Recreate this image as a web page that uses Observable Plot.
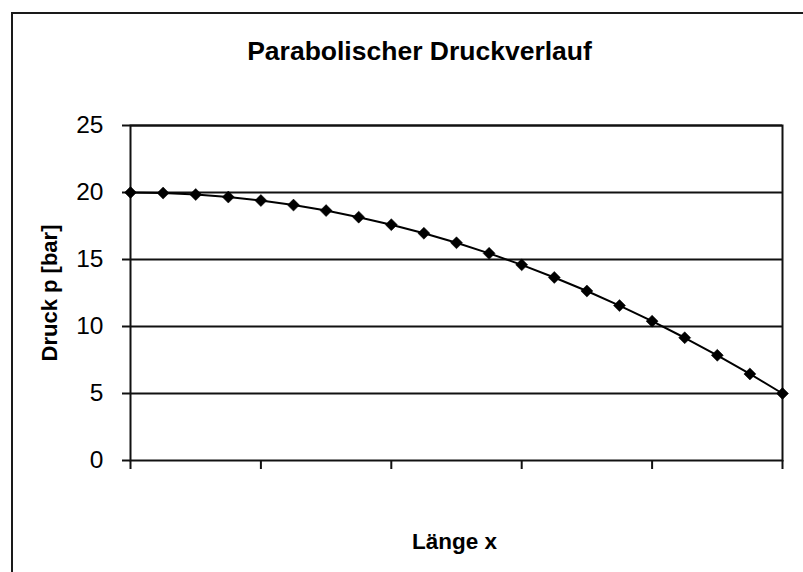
<!DOCTYPE html>
<html>
<head>
<meta charset="utf-8">
<script src="https://cdn.jsdelivr.net/npm/d3@7"></script>
<script src="https://cdn.jsdelivr.net/npm/@observablehq/plot@0.6"></script>
<style>
  html, body { margin: 0; padding: 0; background: white; }
  #wrap { position: relative; width: 803px; height: 572px; overflow: hidden; background: white; }
  #border { position: absolute; left: 11px; top: 12px; width: 900px; height: 700px; border: 2px solid #1a1a1a; box-sizing: border-box; pointer-events: none; }
  #chart { position: absolute; left: 0; top: 0; }
</style>
</head>
<body>
<div id="wrap"><div id="chart"></div><div id="border"></div></div>
<script>
// Data
const lengths = [0, 1, 2, 3, 4, 5, 6, 7, 8, 9, 10, 11, 12, 13, 14, 15, 16, 17, 18, 19, 20];
const pressures = [20, 19.96, 19.85, 19.66, 19.4, 19.06, 18.65, 18.16, 17.6, 16.96, 16.25,
                   15.46, 14.6, 13.66, 12.65, 11.56, 10.4, 9.16, 7.85, 6.46, 5];
const yTicks = [0, 5, 10, 15, 20, 25];
const xTicks = [0, 4, 8, 12, 16, 20];
const gridValues = [5, 10, 15, 20, 25];
const titleText = "Parabolischer Druckverlauf";
const xLabel = "Länge x";
const yLabel = "Druck p [bar]";

const data = lengths.map((x, i) => ({x, p: pressures[i]}));
const font = "'Liberation Sans', Arial, Helvetica, sans-serif";

const chart = Plot.plot({
  width: 803,
  height: 572,
  marginLeft: 130,
  marginRight: 21,
  marginTop: 125,
  marginBottom: 112,
  style: {background: "transparent", fontFamily: font, color: "black"},
  x: {domain: [0, 20]},
  y: {domain: [0, 25]},
  marks: [
    Plot.gridY(gridValues, {stroke: "#111", strokeOpacity: 1, strokeWidth: 2}),
    Plot.frame({stroke: "#111", strokeWidth: 2}),
    Plot.axisY({ticks: yTicks, tickSize: 8, tickPadding: 19, fontSize: 24.5, stroke: "#111", strokeWidth: 2, label: null}),
    Plot.axisX({ticks: xTicks, tickSize: 9, tickFormat: () => "", stroke: "#111", strokeWidth: 2, label: null}),
    Plot.line(data, {x: "x", y: "p", stroke: "black", strokeWidth: 2}),
    Plot.dot(data, {x: "x", y: "p", symbol: "diamond2", r: 5.4, fill: "black", stroke: "black", strokeWidth: 0.5}),
    Plot.text([titleText], {text: d => d, frameAnchor: "top", textAnchor: "middle", dx: -37, dy: -74, lineAnchor: "middle", fontSize: 26.5, fontWeight: "bold", fill: "black"}),
    Plot.text([xLabel], {text: d => d, frameAnchor: "bottom", textAnchor: "middle", dx: -2, dy: 88, lineAnchor: "bottom", fontSize: 22.5, fontWeight: "bold", fill: "black"}),
    Plot.text([yLabel], {text: d => d, frameAnchor: "left", textAnchor: "middle", dx: -74, rotate: -90, lineAnchor: "bottom", fontSize: 22, fontWeight: "bold", fill: "black"})
  ]
});
document.getElementById("chart").appendChild(chart);
</script>
</body>
</html>
